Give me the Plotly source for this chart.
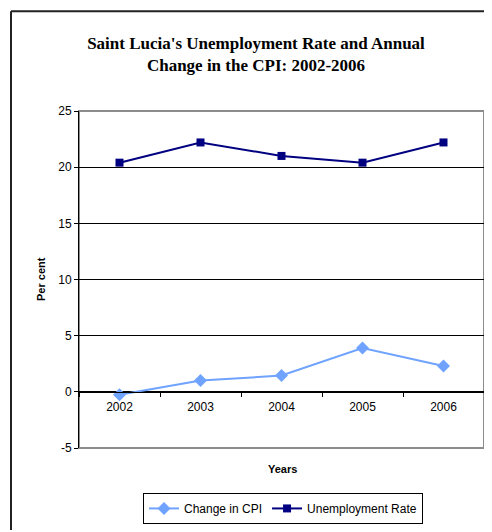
import plotly.graph_objects as go

years = ["2002", "2003", "2004", "2005", "2006"]
cpi_change = [-0.25, 1.0, 1.45, 3.9, 2.3]
unemployment = [20.4, 22.2, 21.0, 20.4, 22.2]
y_ticks = [-5, 0, 5, 10, 15, 20, 25]
y_tick_labels = ["-5", "0", "5", "10", "15", "20", "25"]

OFF = 8  # default page body margin
W, H = 492 - OFF, 532 - OFF
# plot area in window pixel coordinates
L, R, T, B = 79, 484, 111, 456
ml, mr, mt, mb = L - OFF, W - (R - OFF), T - OFF, H - (B - OFF)
pw, ph = R - L, B - T

def px(x):
    return (x - L) / pw

def py(y):
    return (B - y) / ph

fig = go.Figure()
fig.add_trace(go.Scatter(
    x=years, y=cpi_change, name="Change in CPI", mode="lines+markers",
    line=dict(color="#6FA3FF", width=2),
    marker=dict(symbol="diamond", size=10, color="#6FA3FF"),
))
fig.add_trace(go.Scatter(
    x=years, y=unemployment, name="Unemployment Rate", mode="lines+markers",
    line=dict(color="#000080", width=2),
    marker=dict(symbol="square", size=8, color="#000080"),
))

fig.update_layout(
    width=W, height=H,
    margin=dict(l=ml, r=mr, t=mt, b=mb, pad=0),
    paper_bgcolor="white", plot_bgcolor="white",
    font=dict(family="Liberation Sans, Arial", size=12, color="black"),
    title=dict(
        text="<b>Saint Lucia's Unemployment Rate and Annual<br>Change in the CPI: 2002-2006</b>",
        font=dict(family="Liberation Serif, Times New Roman", size=17, color="black"),
        x=(256 - OFF) / W, xanchor="center", xref="container",
        y=1 - (49 - OFF) / H, yanchor="middle", yref="container",
    ),
    showlegend=True,
    legend=dict(
        orientation="h", x=px(283), xanchor="center", y=py(502), yanchor="top",
        bordercolor="black", borderwidth=1, bgcolor="white",
        font=dict(family="Liberation Sans, Arial", size=12, color="black"),
        itemwidth=30, tracegroupgap=0,
    ),
    xaxis=dict(
        type="category", range=[-0.5, 4.5],
        anchor="free", position=py(398.5),
        showline=True, linecolor="black", linewidth=1,
        showgrid=False, zeroline=False,
        ticks="outside", ticklen=4, tickcolor="black", tickson="boundaries",
        ticklabelstandoff=4,
        tickfont=dict(size=12, color="black"),
    ),
    yaxis=dict(
        range=[-5, 25], tickvals=y_ticks, ticktext=y_tick_labels,
        showline=True, linecolor="black", linewidth=1,
        showgrid=True, gridcolor="black", gridwidth=1,
        zeroline=False,
        ticks="outside", ticklen=4, tickcolor="black",
        tickfont=dict(size=12, color="black"),
    ),
)

# plot area border (gray)
fig.add_shape(type="rect", xref="paper", yref="paper", x0=0, x1=1, y0=0, y1=1,
              line=dict(color="#8C8C8C", width=2), layer="below")
# outer chart frame: only left and top edges are visible in the window
fig.add_shape(type="line", xref="paper", yref="paper",
              x0=px(11), x1=px(11), y0=py(540), y1=py(9),
              line=dict(color="#222222", width=2), layer="above")
fig.add_shape(type="line", xref="paper", yref="paper",
              x0=px(11), x1=px(500), y0=py(9), y1=py(9),
              line=dict(color="#222222", width=2), layer="above")

fig.add_annotation(text="<b>Per cent</b>", xref="paper", yref="paper",
                   x=px(41), y=py(283), textangle=-90, showarrow=False,
                   font=dict(size=11, color="black"), xanchor="center", yanchor="middle")
fig.add_annotation(text="<b>Years</b>", xref="paper", yref="paper",
                   x=px(282), y=py(478), showarrow=False,
                   font=dict(size=11, color="black"), xanchor="center", yanchor="middle")

fig.write_html("out.html")
